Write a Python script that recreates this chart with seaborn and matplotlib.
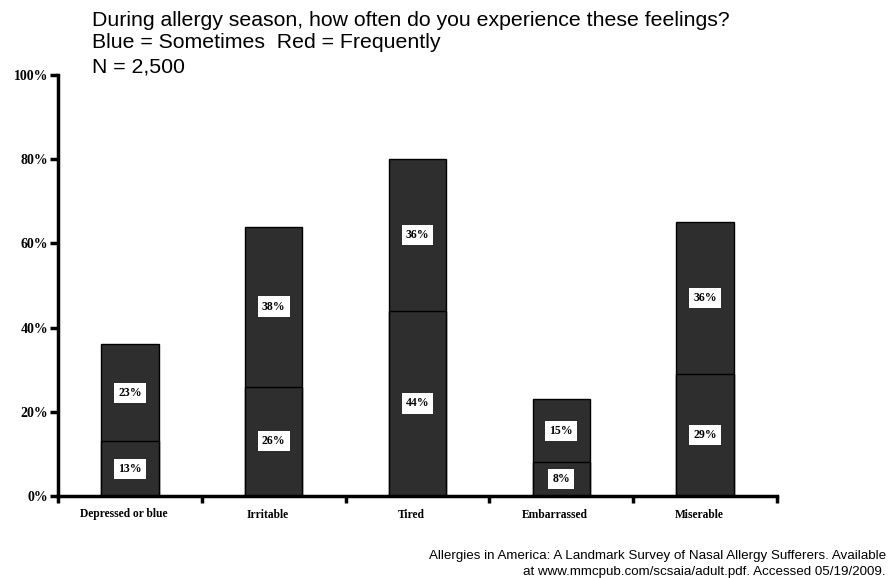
import numpy as np
import pandas as pd
import matplotlib
matplotlib.use('Agg')
import matplotlib.pyplot as plt
import matplotlib.transforms as mtransforms
import seaborn as sns
from matplotlib.ticker import FixedLocator

# data
feelings = ['Depressed or blue', 'Irritable', 'Tired', 'Embarrassed', 'Miserable']
frequently = [13, 26, 44, 8, 29]   # lower segment
sometimes = [23, 38, 36, 15, 36]   # upper segment
y_ticks = [0, 20, 40, 60, 80, 100]
y_tick_labels = ['0%', '20%', '40%', '60%', '80%', '100%']

df = pd.DataFrame({'feeling': feelings, 'frequently': frequently, 'sometimes': sometimes})
df['total'] = df['frequently'] + df['sometimes']

sns.set_style('white')
plt.rcParams['font.family'] = ['Liberation Sans', 'DejaVu Sans']
plt.rcParams['text.color'] = 'black'
plt.rcParams['xtick.color'] = 'black'
plt.rcParams['ytick.color'] = 'black'

fig = plt.figure(figsize=(8.88, 5.78), dpi=100)
ax = fig.add_axes([58 / 888, 82 / 578, (777 - 58) / 888, (496 - 75) / 578])

bar_color = '#2e2e2e'
sns.barplot(data=df, x='feeling', y='total', order=feelings, color=bar_color,
            saturation=1, width=0.4, edgecolor='black', linewidth=1, ax=ax)
sns.barplot(data=df, x='feeling', y='frequently', order=feelings, color=bar_color,
            saturation=1, width=0.4, edgecolor='black', linewidth=1, ax=ax)

serif_bold = dict(family=['Liberation Serif', 'DejaVu Serif'], fontweight='bold')
box = dict(facecolor='white', edgecolor='none', pad=3)

for i, row in df.iterrows():
    ax.text(i, row['frequently'] / 2, f"{row['frequently']}%", ha='center', va='center',
            fontsize=8.5, color='black', bbox=box, **serif_bold)
    ax.text(i, row['frequently'] + row['sometimes'] / 2, f"{row['sometimes']}%", ha='center',
            va='center', fontsize=8.5, color='black', bbox=box, **serif_bold)

ax.set_xlim(-0.5, len(feelings) - 0.5)
ax.set_ylim(0, 100)
ax.set_yticks(y_ticks)
ax.set_yticklabels(y_tick_labels, fontsize=10, color='black', **serif_bold)
ax.set_xticks(range(len(feelings)))
ax.set_xticklabels(feelings, fontsize=8.3, color='black', **serif_bold)
ax.xaxis.set_minor_locator(FixedLocator(np.arange(-0.5, len(feelings), 1.0)))
ax.tick_params(axis='x', which='major', length=0, pad=9)
ax.tick_params(axis='x', which='minor', length=5, width=2.5, direction='out', color='black', bottom=True)
ax.tick_params(axis='y', which='major', length=6, width=2.5, direction='out', color='black', left=True, pad=1)
ax.set_xlabel('')
ax.set_ylabel('')

# category labels sit a little left of the bar centres in the original
shift = mtransforms.ScaledTranslation(-6 / 100, 0, fig.dpi_scale_trans)
for lbl in ax.get_xticklabels():
    lbl.set_transform(lbl.get_transform() + shift)

for spine in ['top', 'right']:
    ax.spines[spine].set_visible(False)
for spine in ['left', 'bottom']:
    ax.spines[spine].set_linewidth(2.5)
    ax.spines[spine].set_color('black')

fig.text(92 / 888, 1 - 20 / 578, 'During allergy season, how often do you experience these feelings?',
         fontsize=15.3, va='center', ha='left')
fig.text(92 / 888, 1 - 43 / 578, 'Blue = Sometimes  Red = Frequently', fontsize=15.3, va='center', ha='left')
fig.text(92 / 888, 1 - 67 / 578, 'N = 2,500', fontsize=15.3, va='center', ha='left')

fig.text(886 / 888, 1 - 556 / 578,
         'Allergies in America: A Landmark Survey of Nasal Allergy Sufferers. Available',
         fontsize=9.6, ha='right', va='center')
fig.text(886 / 888, 1 - 572 / 578, 'at www.mmcpub.com/scsaia/adult.pdf. Accessed 05/19/2009.',
         fontsize=9.6, ha='right', va='center')

fig.savefig('out.png', dpi=100)
